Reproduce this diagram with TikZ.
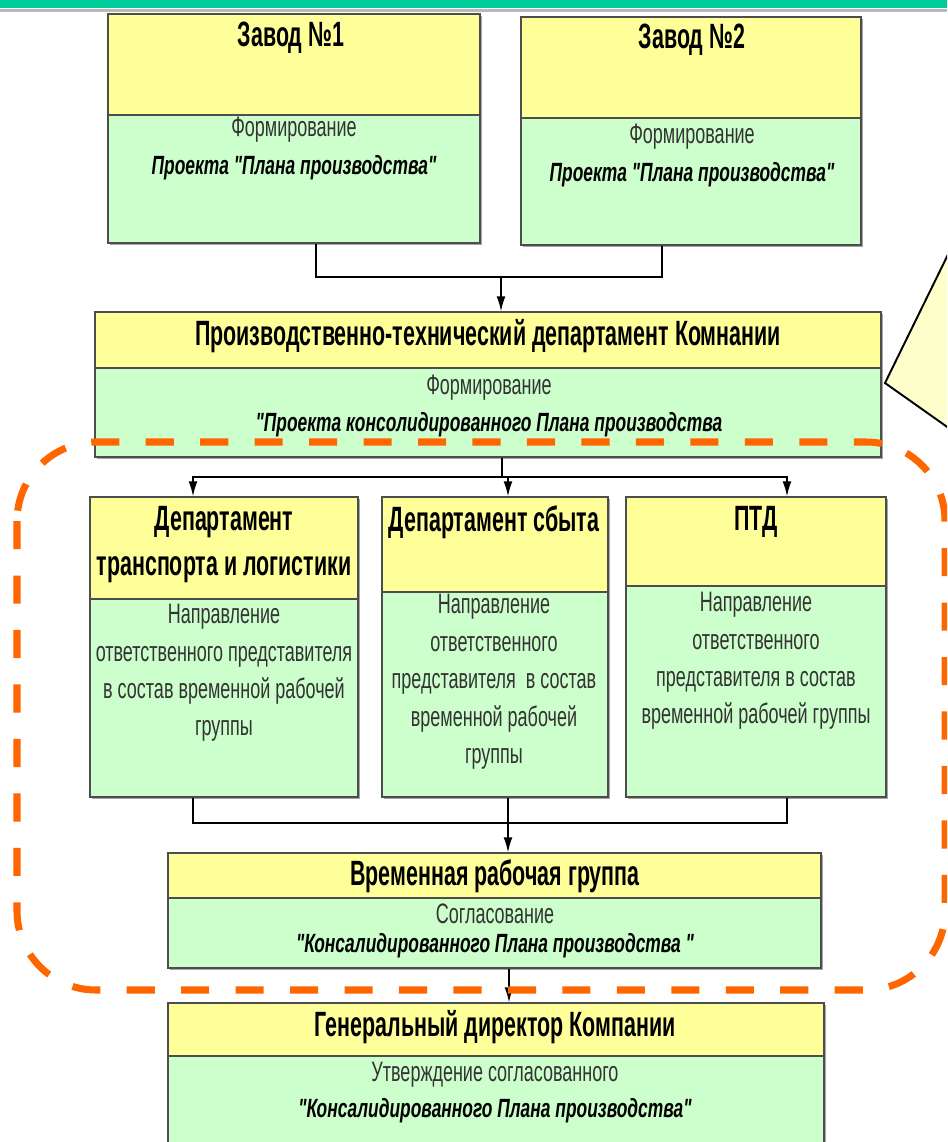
\documentclass[tikz,border=0pt]{standalone}
\usepackage{fontspec}
\setmainfont{Liberation Sans}[FakeStretch=0.64]
\newfontfamily\boldnarrow{Liberation Sans}[FakeStretch=0.61]
\newfontfamily\plannarrow{Liberation Sans}[FakeStretch=0.66]
\usetikzlibrary{positioning,fit,shadows,arrows.meta,calc}

\definecolor{hdryellow}{HTML}{FFFF99}
\definecolor{bodygreen}{HTML}{CCFFCC}
\definecolor{framegray}{HTML}{4D4D4D}
\definecolor{barteal}{HTML}{00CC99}
\definecolor{dashorange}{HTML}{FF6600}
\definecolor{notecream}{HTML}{FFFFCC}
\definecolor{textgray}{HTML}{333333}

\newcommand{\fs}[2]{\fontsize{#1}{#2}\selectfont}

\tikzset{
    boxshadow/.style={drop shadow={shadow xshift=1.2pt, shadow yshift=-1.2pt, opacity=0.35, fill=black}},
    hdr/.style={draw=framegray, fill=hdryellow, inner sep=0pt, line width=0.7pt, boxshadow},
    bdy/.style={draw=framegray, fill=bodygreen, inner sep=0pt, line width=0.7pt, boxshadow},
    ttl/.style={inner sep=0pt, align=center, font=\boldnarrow\bfseries\fs{#1}{25.6}},
    txt/.style={inner sep=0pt, align=center, text=textgray, font=\fs{#1}{21.3}},
    plan/.style={inner sep=0pt, align=center, font=\plannarrow\bfseries\itshape\fs{15}{17}},
    link/.style={line width=0.85pt, black},
    arr/.style={link, -{Latex[length=8.5pt,width=5pt]}},
}

\begin{document}
\begin{tikzpicture}[x=0.02cm, y=-0.02cm]

    \clip (0,0) rectangle (947,1142);
    \fill[white] (0,0) rectangle (947,1142);

    % top bar
    \fill[barteal] (0,0) rectangle (947,8);
    \fill[gray!55] (0,9.5) rectangle (947,12.5);

    % Zavod 1
    \node[hdr, fit={(108,14) (480,115)}] (z1h) {};
    \node[bdy, fit={(108,115) (480,243)}] (z1b) {};
    \node[ttl=20] (z1t) at (291,38) {Завод №1};
    \node[txt=16] (z1a) at (294,130) {Формирование};
    \node[plan] (z1p) at (294,168) {Проекта "Плана производства"};

    % Zavod 2
    \node[hdr, fit={(521,17) (861,118)}] (z2h) {};
    \node[bdy, fit={(521,118) (861,245)}] (z2b) {};
    \node[ttl=20] (z2t) at (692,40) {Завод №2};
    \node[txt=16] (z2a) at (692,137) {Формирование};
    \node[plan] (z2p) at (692,175) {Проекта "Плана производства"};

    % production-technical department
    \node[hdr, fit={(95,312) (881,368)}] (ptch) {};
    \node[bdy, fit={(95,368) (881,457)}] (ptcb) {};
    \node[ttl=20] (ptct) at (488,336) {Производственно-технический департамент Комнании};
    \node[txt=16] (ptca) at (489,388) {Формирование};
    \node[plan] (ptcp) at (489,425) {"Проекта консолидированного Плана производства};

    % transport and logistics
    \node[hdr, fit={(90,497) (358,599)}] (trh) {};
    \node[bdy, fit={(90,599) (358,797)}] (trb) {};
    \node[ttl=20] (trt) at (224,545) {Департамент\\транспорта и логистики};
    \node[txt=16] (tra) at (224,673) {Направление\\ответственного представителя\\в состав временной рабочей\\группы};

    % sales
    \node[hdr, fit={(382,497) (608,592)}] (sbh) {};
    \node[bdy, fit={(382,592) (608,797)}] (sbb) {};
    \node[ttl=20] (sbt) at (494,522) {Департамент сбыта};
    \node[txt=16] (sba) at (494,682) {Направление\\ответственного\\представителя\ \ в состав\\временной рабочей\\группы};

    % PTD
    \node[hdr, fit={(626,497) (886,586)}] (ptdh) {};
    \node[bdy, fit={(626,586) (886,797)}] (ptdb) {};
    \node[ttl=20] (ptdt) at (756,522) {ПТД};
    \node[txt=16] (ptda) at (756,661) {Направление\\ответственного\\представителя в состав\\временной рабочей группы};

    % working group
    \node[hdr, fit={(168,853) (821,898)}] (tmph) {};
    \node[bdy, fit={(168,898) (821,968)}] (tmpb) {};
    \node[ttl=20] (tmpt) at (495,876) {Временная рабочая группа};
    \node[txt=16] (tmpa) at (495,914) {Согласование};
    \node[plan] (tmpp) at (495,946) {"Консалидированного Плана производства "};

    % general director
    \node[hdr, fit={(168,1003) (824,1056)}] (genh) {};
    \node[bdy, fit={(168,1056) (824,1160)}] (genb) {};
    \node[ttl=20] (gent) at (495,1027) {Генеральный директор Компании};
    \node[txt=16] (gena) at (495,1075) {Утверждение согласованного};
    \node[plan] (genp) at (495,1111) {"Консалидированного Плана производства"};

    % connectors
    \coordinate (j1) at (501,277);
    \coordinate (j2) at (502,477);
    \coordinate (j3) at (508,823);
    \coordinate (j4) at (509,985);

    \draw[link] ($(z1b.south)+(22,0)$) |- (j1) -| ($(z2b.south)+(-29,0)$);
    \draw[arr] (j1) -- (j1 |- ptch.north);

    \draw[link] (j2 |- ptcb.south) -- (j2);
    \draw[arr] (j2) -| ($(trh.north)+(-31,0)$);
    \draw[arr] (j2) -| ($(sbh.north)+(13,0)$);
    \draw[arr] (j2) -| ($(ptdh.north)+(31,0)$);

    \draw[link] ($(trb.south)+(-31,0)$) |- (j3);
    \draw[link] ($(ptdb.south)+(31,0)$) |- (j3);
    \draw[arr] (j3 |- sbb.south) -- (j3 |- tmph.north);

    \draw[arr] (j4 |- tmpb.south) -- (j4 |- genh.north);

    % note pointer
    \filldraw[fill=notecream, draw=black, line width=1.1pt] (885,383) -- (960,230) -- (960,436) -- cycle;

    % working group frame
    \draw[dashorange, line width=4pt, dash pattern=on 16pt off 15pt, rounded corners=45pt]
        (17,442) rectangle (945,990);

\end{tikzpicture}
\end{document}
